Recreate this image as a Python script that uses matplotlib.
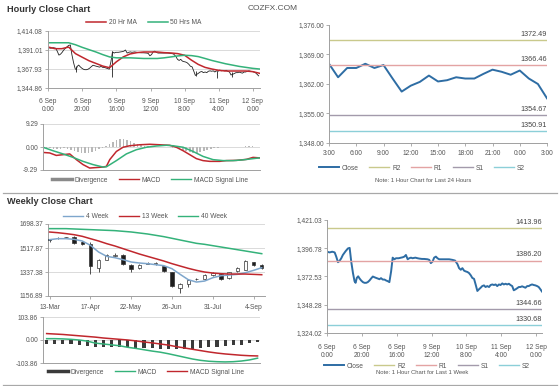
import matplotlib
matplotlib.use('Agg')
import matplotlib.pyplot as plt
from matplotlib.lines import Line2D

plt.rcParams['font.family'] = ['Liberation Sans', 'DejaVu Sans']

# ---- datos: ultima semana, cierre horario ----
hr_ticks = ['6 Sep\n0:00', '6 Sep\n20:00', '6 Sep\n16:00', '9 Sep\n12:00',
            '10 Sep\n8:00', '11 Sep\n4:00', '12 Sep\n0:00']
hr_tick_hours = [0, 20, 40, 60, 80, 100, 120]

wk_hours = [0, 1.5, 3, 4.4, 5.3, 6.3, 7.2, 8.2, 9.1, 10.7,
            12, 13, 13.9, 14.9, 15.8, 16.4, 17.1, 17.9, 18.7, 19.6,
            20.6, 21.5, 22.5, 23.4, 24.4, 25.3, 26.3, 27.2, 28.2, 29.1,
            30.1, 31, 32, 33, 33.9, 34.9, 35.8, 36.8, 37.7, 38.7,
            39.6, 41.1, 42.5, 43.4, 44.4, 45.3, 46.3, 47.2, 48.2, 49.1,
            50.7, 52, 53, 54.5, 55.8, 57.7, 58.7, 59.6, 60.6, 61.5,
            62.5, 63.4, 64.4, 66.3, 68.2, 70.1, 72, 73.5, 74.9, 75.8,
            76.8, 77.7, 78.7, 79.6, 80.6, 81.5, 82.5, 83.4, 84.4, 85.3,
            86.3, 87.2, 88.2, 89.1, 90.1, 91, 92, 93, 93.9, 94.9,
            95.8, 96.8, 97.7, 98.7, 99.6, 100.6, 101.5, 102.5, 103.4, 104.4,
            105.3, 106.3, 107.2, 108.2, 109.1, 110.1, 111, 112, 112.9, 113.9,
            114.9, 115.8, 116.8, 117.7, 118.7, 119.6, 120.6, 121.5, 122.5, 123.4]
wk_close = [1393.8, 1393.2, 1393.8, 1393.2, 1389.6, 1384.8, 1385.9, 1388.2, 1391.0, 1394.3,
            1396.6, 1397.1, 1385.4, 1375.5, 1368.5, 1367.1, 1371.3, 1372.7, 1370.8, 1369.1,
            1367.7, 1367.1, 1367.1, 1367.7, 1369.1, 1370.8, 1372.5, 1371.9, 1371.3, 1370.8,
            1370.2, 1371.1, 1369.9, 1369.9, 1369.1, 1368.5, 1367.7, 1376.9, 1388.7, 1387.3,
            1388.2, 1388.2, 1388.7, 1389.0, 1389.6, 1391.0, 1387.3, 1388.2, 1388.7, 1388.2,
            1388.7, 1388.2, 1387.9, 1387.6, 1387.6, 1387.3, 1386.8, 1384.0, 1385.4, 1388.7,
            1389.6, 1388.2, 1387.3, 1387.3, 1387.3, 1387.3, 1386.8, 1386.2, 1383.1, 1379.7,
            1378.3, 1379.7, 1377.5, 1376.9, 1376.4, 1375.5, 1373.6, 1371.3, 1370.5, 1365.7,
            1360.1, 1361.5, 1362.9, 1364.3, 1364.9, 1363.5, 1364.3, 1363.5, 1365.2, 1365.7,
            1365.2, 1365.7, 1364.3, 1365.7, 1365.2, 1366.6, 1365.7, 1366.3, 1365.7, 1366.3,
            1365.2, 1364.3, 1360.7, 1361.5, 1362.4, 1363.5, 1363.5, 1364.1, 1363.5, 1362.9,
            1364.3, 1364.3, 1365.2, 1365.7, 1365.2, 1364.9, 1364.3, 1363.5, 1361.5, 1359.6]

# picos (maximo/minimo) visibles en el grafico horario
spk_hours = [16.2, 37.7, 86.4, 99.1, 107.5]
spk_high = [1372.0, 1390.0, 1366.0, 1366.0, 1364.0]
spk_low = [1364.7, 1358.8, 1359.6, 1356.8, 1358.8]

# medias moviles (cada 4 horas)
ma_hours = list(range(0, 125, 4))
ma20 = [1394.6, 1392.6, 1392.6, 1394.6, 1386.6, 1382.2, 1377.9, 1374.7, 1371.5, 1369.5,
        1376.7, 1382.6, 1386.2, 1387.8, 1388.6, 1388.6, 1388.6, 1387.8, 1387.4, 1386.6,
        1384.6, 1378.7, 1373.5, 1369.9, 1367.9, 1366.3, 1365.5, 1365.5, 1365.5, 1365.5,
        1364.7, 1362.7]
ma50 = [1399.8, 1399.8, 1399.8, 1399.8, 1397.4, 1394.2, 1391.4, 1388.6, 1385.4, 1382.6,
        1381.5, 1381.5, 1381.5, 1381.1, 1380.7, 1380.7, 1380.7, 1381.5, 1382.6, 1383.8,
        1384.6, 1384.2, 1383.0, 1380.7, 1378.3, 1376.3, 1374.3, 1372.7, 1371.1, 1369.9,
        1368.7, 1367.9]
hr_yticks = [1344.86, 1367.93, 1391.01, 1414.08]

# MACD horario
hm_x = [0, 3.8, 7.6, 11.5, 15.3, 19.1, 22.9, 26.7, 30.5, 34.4, 36.3, 38.2, 42.0, 45.8,
        49.6, 55.3, 61.1, 66.8, 72.5, 76.3, 80.2, 84.0, 87.8, 91.6, 95.4, 101.1, 104.9,
        110.7, 116.4, 120.2, 124.0]
hr_macd = [-2.2, -2.4, -3.4, -3.1, -2.8, -5.1, -7.1, -8.5, -8.3, -8.1, -7.8, -5.1, -1.8, -0.1,
           0.5, 0.9, 1.1, 0.9, 0.7, -0.1, -1.5, -3.1, -4.7, -5.5, -5.8, -5.8, -5.5,
           -5.4, -5.0, -4.2, -4.4]
sig_x = [0, 5.7, 11.5, 17.2, 22.9, 28.6, 34.4, 36.3, 42.0, 47.7, 53.4, 59.2, 64.9, 70.6,
         74.4, 80.2, 85.9, 91.6, 97.3, 103.1, 108.8, 114.5, 120.2, 124.0]
hr_signal = [-0.1, -1.5, -2.8, -4.2, -5.8, -7.1, -8.1, -8.0, -5.5, -2.8, -1.1, -0.1, 0.4, 0.7,
             0.5, -0.1, -1.8, -3.8, -5.1, -5.5, -5.5, -5.2, -4.7, -4.4]
div_hours = list(range(0, 125, 2))
hr_div = [0, -0.3, -0.6, -0.9, -1.0, -0.8, -0.5, -0.8, -1.3, -1.8,
          -2.2, -2.4, -2.5, -2.4, -2.0, -1.5, -1.0, -0.6, 0.3, 1.2,
          2.2, 2.8, 3.1, 3.1, 2.9, 2.5, 1.8, 1.2, 0.8, 0.5,
          0.3, 0.2, 0.1, 0.0, -0.1, -0.1, -0.2, -0.3, -0.5, -0.8,
          -1.2, -1.6, -2.0, -2.3, -2.4, -2.2, -1.8, -1.3, -0.9, -0.6,
          -0.4, -0.2, -0.1, 0.0, 0.1, 0.1, 0.1, 0.2, 0.3, 0.3,
          0.3, 0.2, 0.2]

# ultimas 24 horas
d_ticks = ['3:00', '6:00', '9:00', '12:00', '15:00', '18:00', '21:00', '0:00', '3:00']
d_close = [1366.8, 1363.6, 1365.8, 1365.8, 1366.8, 1365.8, 1366.5, 1363.3, 1360.2, 1361.6,
           1362.5, 1364.0, 1362.6, 1362.9, 1363.6, 1363.3, 1363.3, 1364.4, 1365.4, 1364.9,
           1364.2, 1365.2, 1363.3, 1362.0, 1358.6]
d_levels = [1372.49, 1366.46, 1354.67, 1350.91]
d_yticks = [1348.0, 1355.0, 1362.0, 1369.0, 1376.0]

# semanal
w_ticks = ['13-Mar', '17-Apr', '22-May', '26-Jun', '31-Jul', '4-Sep']
w_open = [1582, 1590, 1597, 1600, 1562, 1545, 1370, 1430, 1460, 1467, 1392, 1365, 1400, 1398,
          1380, 1338, 1218, 1245, 1283, 1285, 1312, 1325, 1290, 1345, 1355, 1410, 1390]
w_close = [1576, 1596, 1599, 1555, 1550, 1380, 1430, 1462, 1465, 1395, 1362, 1390, 1403, 1402,
           1345, 1230, 1248, 1280, 1288, 1315, 1330, 1282, 1335, 1365, 1420, 1392, 1370]
w_high = [1588, 1600, 1603, 1605, 1570, 1563, 1435, 1470, 1478, 1472, 1395, 1395, 1410, 1412,
          1385, 1340, 1252, 1285, 1292, 1320, 1335, 1332, 1340, 1372, 1425, 1415, 1395]
w_low = [1565, 1585, 1592, 1550, 1540, 1325, 1337, 1425, 1448, 1390, 1340, 1360, 1395, 1390,
         1340, 1225, 1180, 1225, 1280, 1280, 1305, 1278, 1285, 1340, 1350, 1385, 1362]
ma4w = [1580.6, 1588, 1588, 1583, 1570.6, 1538, 1487.7, 1455, 1445, 1430, 1412.5, 1405, 1400,
        1392.4, 1385, 1362, 1319.6, 1279.4, 1261.8, 1269.4, 1294.5, 1309.5, 1314.6, 1319.6,
        1332, 1349.7, 1369.8]
ma13w = [1638, 1633, 1626, 1618, 1605.7, 1588, 1570.6, 1550.5, 1533, 1512.9, 1492.8, 1472.7,
         1455, 1437.5, 1420, 1400, 1382.3, 1364.8, 1349.7, 1337.2, 1329.6, 1324.6, 1322, 1322,
         1322, 1319.6, 1317]
ma40w = [1663.5, 1663.5, 1663.5, 1661, 1658.4, 1656, 1653.4, 1651, 1648.4, 1643.4, 1638.3,
         1630.8, 1623.3, 1613.3, 1603.2, 1590.7, 1578, 1565.6, 1553, 1545.5, 1535.4, 1525.4,
         1515.4, 1505.3, 1495.3, 1485.2, 1475.2]
w_yticks = [1156.89, 1337.38, 1517.87, 1698.37]
w_macd = [6, 6, 5, 3, 0, -5, -14, -18, -22, -26, -33, -38, -44, -50, -55, -62, -70, -78, -86,
          -92, -96, -98, -99, -98, -95, -90, -82]
w_signal = [29, 27, 25, 22, 19, 16, 13, 9, 6, 3, 0, -4, -9, -13, -18, -23, -30, -36, -42, -48,
            -54, -59, -63, -66, -69, -71, -72]
w_div = [-18, -18, -18, -20, -23, -27, -30, -30, -32, -33, -33, -35, -36, -36, -39, -39, -42,
         -39, -39, -36, -33, -30, -27, -24, -21, -15, -9]
wk_levels = [1413.96, 1386.20, 1344.66, 1330.68]
wk_yticks = ['1,324.02', '1,348.28', '1,372.53', '1,396.78', '1,421.03']

lvl_colors = ['#c9c98c', '#e3a3a3', '#a39aab', '#8ccfd8']
lvl_names = ['R2', 'R1', 'S1', 'S2']
RED = '#c0272d'
GREEN = '#34b27a'
BLUE = '#2e6da4'
TXT = '#555555'
FS = 4.8

W, H = 560, 386


def box(x0, y0, x1, y1):
    # pixeles (arriba-izquierda) -> fraccion de figura
    return [x0 / W, 1 - y1 / H, (x1 - x0) / W, (y1 - y0) / H]


def estilo(ax, xpad=2):
    for s in ['top', 'right']:
        ax.spines[s].set_visible(False)
    for s in ['left', 'bottom']:
        ax.spines[s].set_color('#a0a0a0')
        ax.spines[s].set_linewidth(0.7)
    ax.tick_params(labelsize=FS, colors='#a0a0a0', labelcolor=TXT, length=2, width=0.6, pad=1.5)
    ax.tick_params(axis='x', pad=xpad)


def leyenda(ax, handles, labels, cx, cy, fs=FS):
    ax.legend(handles, labels, loc='center', bbox_to_anchor=(cx / W, 1 - cy / H),
              bbox_transform=fig.transFigure, ncol=len(labels), frameon=False, fontsize=fs,
              handlelength=3.0, handletextpad=0.4, columnspacing=1.6, labelcolor=TXT)


fig = plt.figure(figsize=(5.6, 3.86), dpi=100)

fig.text(7 / W, 1 - 9 / H, 'Hourly Close Chart', fontsize=6.6, fontweight='bold', color='#333333', va='center')
fig.text(248 / W, 1 - 9 / H, 'COZFX.COM', fontsize=6, color=TXT, va='center')
fig.text(7 / W, 1 - 202 / H, 'Weekly Close Chart', fontsize=6.6, fontweight='bold', color='#333333', va='center')
for yy in [193, 385]:
    fig.add_artist(Line2D([3 / W, 557 / W], [1 - yy / H, 1 - yy / H], transform=fig.transFigure,
                          color='#a8a8a8', lw=0.9))

# --- A: grafico horario ---
ax = fig.add_axes(box(47.5, 31, 260, 88))
estilo(ax, xpad=5)
ax.plot(wk_hours, wk_close, color='#222222', lw=0.6)
ax.vlines(spk_hours, spk_low, spk_high, color='#222222', lw=0.6)
ax.plot(ma_hours, ma20, color=RED, lw=1.1)
ax.plot(ma_hours, ma50, color=GREEN, lw=1.1)
ax.set_xlim(-0.4, 124.2)
ax.set_ylim(hr_yticks[0], hr_yticks[-1])
ax.set_yticks(hr_yticks)
ax.set_yticklabels([f'{v:,.2f}' for v in hr_yticks])
ax.set_xticks(hr_tick_hours)
ax.set_xticklabels(hr_ticks)
ax.grid(axis='y', color='#d4d4d4', lw=0.6)
ax.set_axisbelow(True)
leyenda(ax, [Line2D([], [], color=RED, lw=1.1), Line2D([], [], color=GREEN, lw=1.1)],
        ['20 Hr MA', '50 Hrs MA'], 144, 23)

# --- B: MACD horario ---
ax = fig.add_axes(box(43, 124, 260, 170))
estilo(ax)
ax.bar(div_hours, hr_div, width=0.9, color='#b8b8b8')
ax.plot(hm_x, hr_macd, color=RED, lw=1.1)
ax.plot(sig_x, hr_signal, color=GREEN, lw=1.1)
ax.set_xlim(0, 124.2)
ax.set_ylim(-9.29, 9.29)
ax.set_yticks([-9.29, 0, 9.29])
ax.set_yticklabels(['-9.29', '0.00', '9.29'])
ax.set_xticks([])
ax.grid(axis='y', color='#d4d4d4', lw=0.6)
ax.set_axisbelow(True)
leyenda(ax, [Line2D([], [], color='#8a8a8a', lw=2.5), Line2D([], [], color=RED, lw=1),
             Line2D([], [], color=GREEN, lw=1)],
        ['Divergence', 'MACD', 'MACD Signal Line'], 150, 180)

# --- C: ultimas 24 horas ---
ax = fig.add_axes(box(329, 25, 547, 143))
estilo(ax, xpad=3)
ax.plot(range(len(d_close)), d_close, color=BLUE, lw=1.4, label='Close')
for v, c, n in zip(d_levels, lvl_colors, lvl_names):
    ax.axhline(v, color=c, lw=1.0, label=n)
    ax.text(24, v + 0.5, f'{v:.2f}', ha='right', va='bottom', fontsize=5.2, color='#444444')
ax.set_xlim(0, 24)
ax.set_ylim(1348, 1376)
ax.set_yticks(d_yticks)
ax.set_yticklabels([f'{v:,.2f}' for v in d_yticks])
ax.set_xticks(range(0, 25, 3))
ax.set_xticklabels(d_ticks)
h, l = ax.get_legend_handles_labels()
leyenda(ax, h, l, 422, 168)
fig.text(423 / W, 1 - 180 / H, 'Note: 1 Hour Chart for Last 24 Hours', fontsize=4.2, color=TXT,
         ha='center', va='center')

# --- D: velas semanales ---
ax = fig.add_axes(box(48, 224, 265, 296))
estilo(ax, xpad=4)
weeks = range(len(w_close))
ax.vlines(weeks, w_low, w_high, color='#333333', lw=0.6, zorder=2)
for i in weeks:
    up = w_close[i] >= w_open[i]
    lo = min(w_open[i], w_close[i])
    hgt = max(abs(w_close[i] - w_open[i]), 3)
    ax.bar(i, hgt, bottom=lo, width=0.42, color='white' if up else '#1e1e1e',
           edgecolor='#333333', lw=0.5, zorder=3)
ax.plot(weeks, ma4w, color='#7ea6cc', lw=1.1, zorder=4)
ax.plot(weeks, ma13w, color=RED, lw=1.1, zorder=4)
ax.plot(weeks, ma40w, color=GREEN, lw=1.1, zorder=4)
ax.set_xlim(-0.2, 26.4)
ax.set_ylim(w_yticks[0], w_yticks[-1])
ax.set_yticks(w_yticks)
ax.set_yticklabels([f'{v:.2f}' for v in w_yticks])
ax.set_xticks(range(0, 26, 5))
ax.set_xticklabels(w_ticks)
ax.grid(axis='y', color='#d4d4d4', lw=0.6)
ax.set_axisbelow(True)
leyenda(ax, [Line2D([], [], color='#7ea6cc', lw=1), Line2D([], [], color=RED, lw=1),
             Line2D([], [], color=GREEN, lw=1)],
        ['4 Week', '13 Week', '40 Week'], 145, 217)

# --- E: MACD semanal ---
ax = fig.add_axes(box(43, 317, 260, 363))
estilo(ax)
ax.bar(weeks, w_div, width=0.38, color='#3a3a3a')
ax.plot(weeks, w_macd, color=GREEN, lw=1.1)
ax.plot(weeks, w_signal, color=RED, lw=1.1)
ax.set_xlim(-0.45, 26.3)
ax.set_ylim(-103.86, 103.86)
ax.set_yticks([-103.86, 0, 103.86])
ax.set_yticklabels(['-103.86', '0.00', '103.86'])
ax.set_xticks([])
ax.grid(axis='y', color='#d4d4d4', lw=0.6)
ax.set_axisbelow(True)
leyenda(ax, [Line2D([], [], color='#3a3a3a', lw=2.5), Line2D([], [], color=GREEN, lw=1),
             Line2D([], [], color=RED, lw=1)],
        ['Divergence', 'MACD', 'MACD Signal Line'], 146, 372)

# --- F: ultima semana ---
ax = fig.add_axes(box(327, 220, 542, 333))
estilo(ax, xpad=6)
ax.plot(wk_hours, wk_close, color=BLUE, lw=1.4, label='Close')
for v, c, n in zip(wk_levels, lvl_colors, lvl_names):
    ax.axhline(v, color=c, lw=1.0, label=n)
    ax.text(123.4, v + 1.8, f'{v:.2f}', ha='right', va='bottom', fontsize=5.2, color='#444444')
ax.set_xlim(0, 123.4)
ax.set_ylim(1324.02, 1421.03)
ax.set_yticks([1324.02, 1348.28, 1372.53, 1396.78, 1421.03])
ax.set_yticklabels(wk_yticks)
ax.set_xticks(hr_tick_hours)
ax.set_xticklabels(hr_ticks)
h, l = ax.get_legend_handles_labels()
leyenda(ax, h, l, 427, 366)
fig.text(422 / W, 1 - 373 / H, 'Note: 1 Hour Chart for Last 1 Week', fontsize=4.2, color=TXT,
         ha='center', va='center')

fig.savefig('out.png', dpi=100)
